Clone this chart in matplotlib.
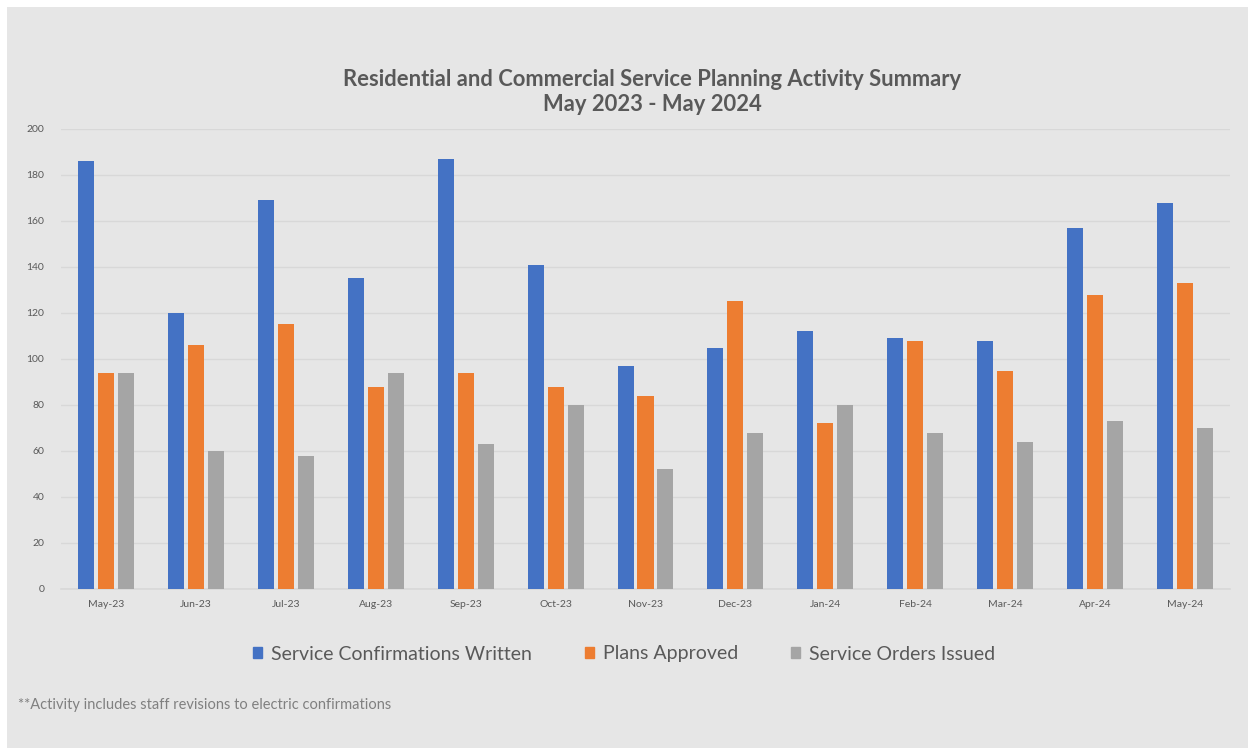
import matplotlib.pyplot as plt
import matplotlib.patches as mpatches
import numpy as np

plt.rcParams['font.family'] = ['Lato', 'DejaVu Sans']

months = ['May-23', 'Jun-23', 'Jul-23', 'Aug-23', 'Sep-23', 'Oct-23', 'Nov-23',
          'Dec-23', 'Jan-24', 'Feb-24', 'Mar-24', 'Apr-24', 'May-24']
confirmations = [186, 120, 169, 135, 187, 141, 97, 105, 112, 109, 108, 157, 168]
plans_approved = [94, 106, 115, 88, 94, 88, 84, 125, 72, 108, 95, 128, 133]
orders_issued = [94, 60, 58, 94, 63, 80, 52, 68, 80, 68, 64, 73, 70]

series_names = ['Service Confirmations Written', 'Plans Approved', 'Service Orders Issued']
colors = ['#4472C4', '#ED7D31', '#A5A5A5']
bg = '#e6e6e6'
text_col = '#595959'

fig = plt.figure(figsize=(12.48, 7.48), dpi=100, facecolor='white')
# grey chart area with thin white margin
fig.patches.append(mpatches.Rectangle((7 / 1248, 0), 1 - 7 / 1248, 1 - 7 / 748,
                                      transform=fig.transFigure, facecolor=bg,
                                      edgecolor='none', zorder=-1))

ax = fig.add_axes([61 / 1248, (748 - 589) / 748, (1230 - 61) / 1248, 460 / 748])
ax.set_facecolor(bg)

x = np.arange(len(months))
w = 0.178
step = 0.222
for i, (vals, c) in enumerate(zip([confirmations, plans_approved, orders_issued], colors)):
    ax.bar(x + (i - 1) * step, vals, width=w, color=c, zorder=3, label=series_names[i])

ax.set_xlim(-0.5, len(months) - 0.5)
ax.set_ylim(0, 200)
ax.set_yticks(range(0, 201, 20))
ax.set_xticks(x)
ax.set_xticklabels(months)
ax.tick_params(axis='both', length=0, labelsize=7.5, colors=text_col)
ax.tick_params(axis='x', pad=8)
ax.tick_params(axis='y', pad=12)
ax.grid(axis='y', color='#d8d8d8', linewidth=1, zorder=0)
for s in ['top', 'right', 'left']:
    ax.spines[s].set_visible(False)
ax.spines['bottom'].set_color('#d8d8d8')
ax.spines['bottom'].set_linewidth(1.2)

fig.text(652 / 1248, 1 - 92 / 748,
         'Residential and Commercial Service Planning Activity Summary\nMay 2023 - May 2024',
         ha='center', va='center', fontsize=15.8, fontweight='bold', color=text_col,
         linespacing=1.25)

handles = [mpatches.Patch(color=c) for c in colors]
fig.legend(handles, series_names, loc='center', bbox_to_anchor=(624 / 1248, 1 - 654 / 748),
           ncol=3, frameon=False, fontsize=14, labelcolor=text_col,
           handlelength=0.5, handleheight=0.5, handletextpad=0.45, columnspacing=2.7)

fig.text(18 / 1248, 1 - 705 / 748, '**Activity includes staff revisions to electric confirmations',
         ha='left', va='center', fontsize=10.5, color='#808080')

fig.savefig('out.png', dpi=100, facecolor='white')
